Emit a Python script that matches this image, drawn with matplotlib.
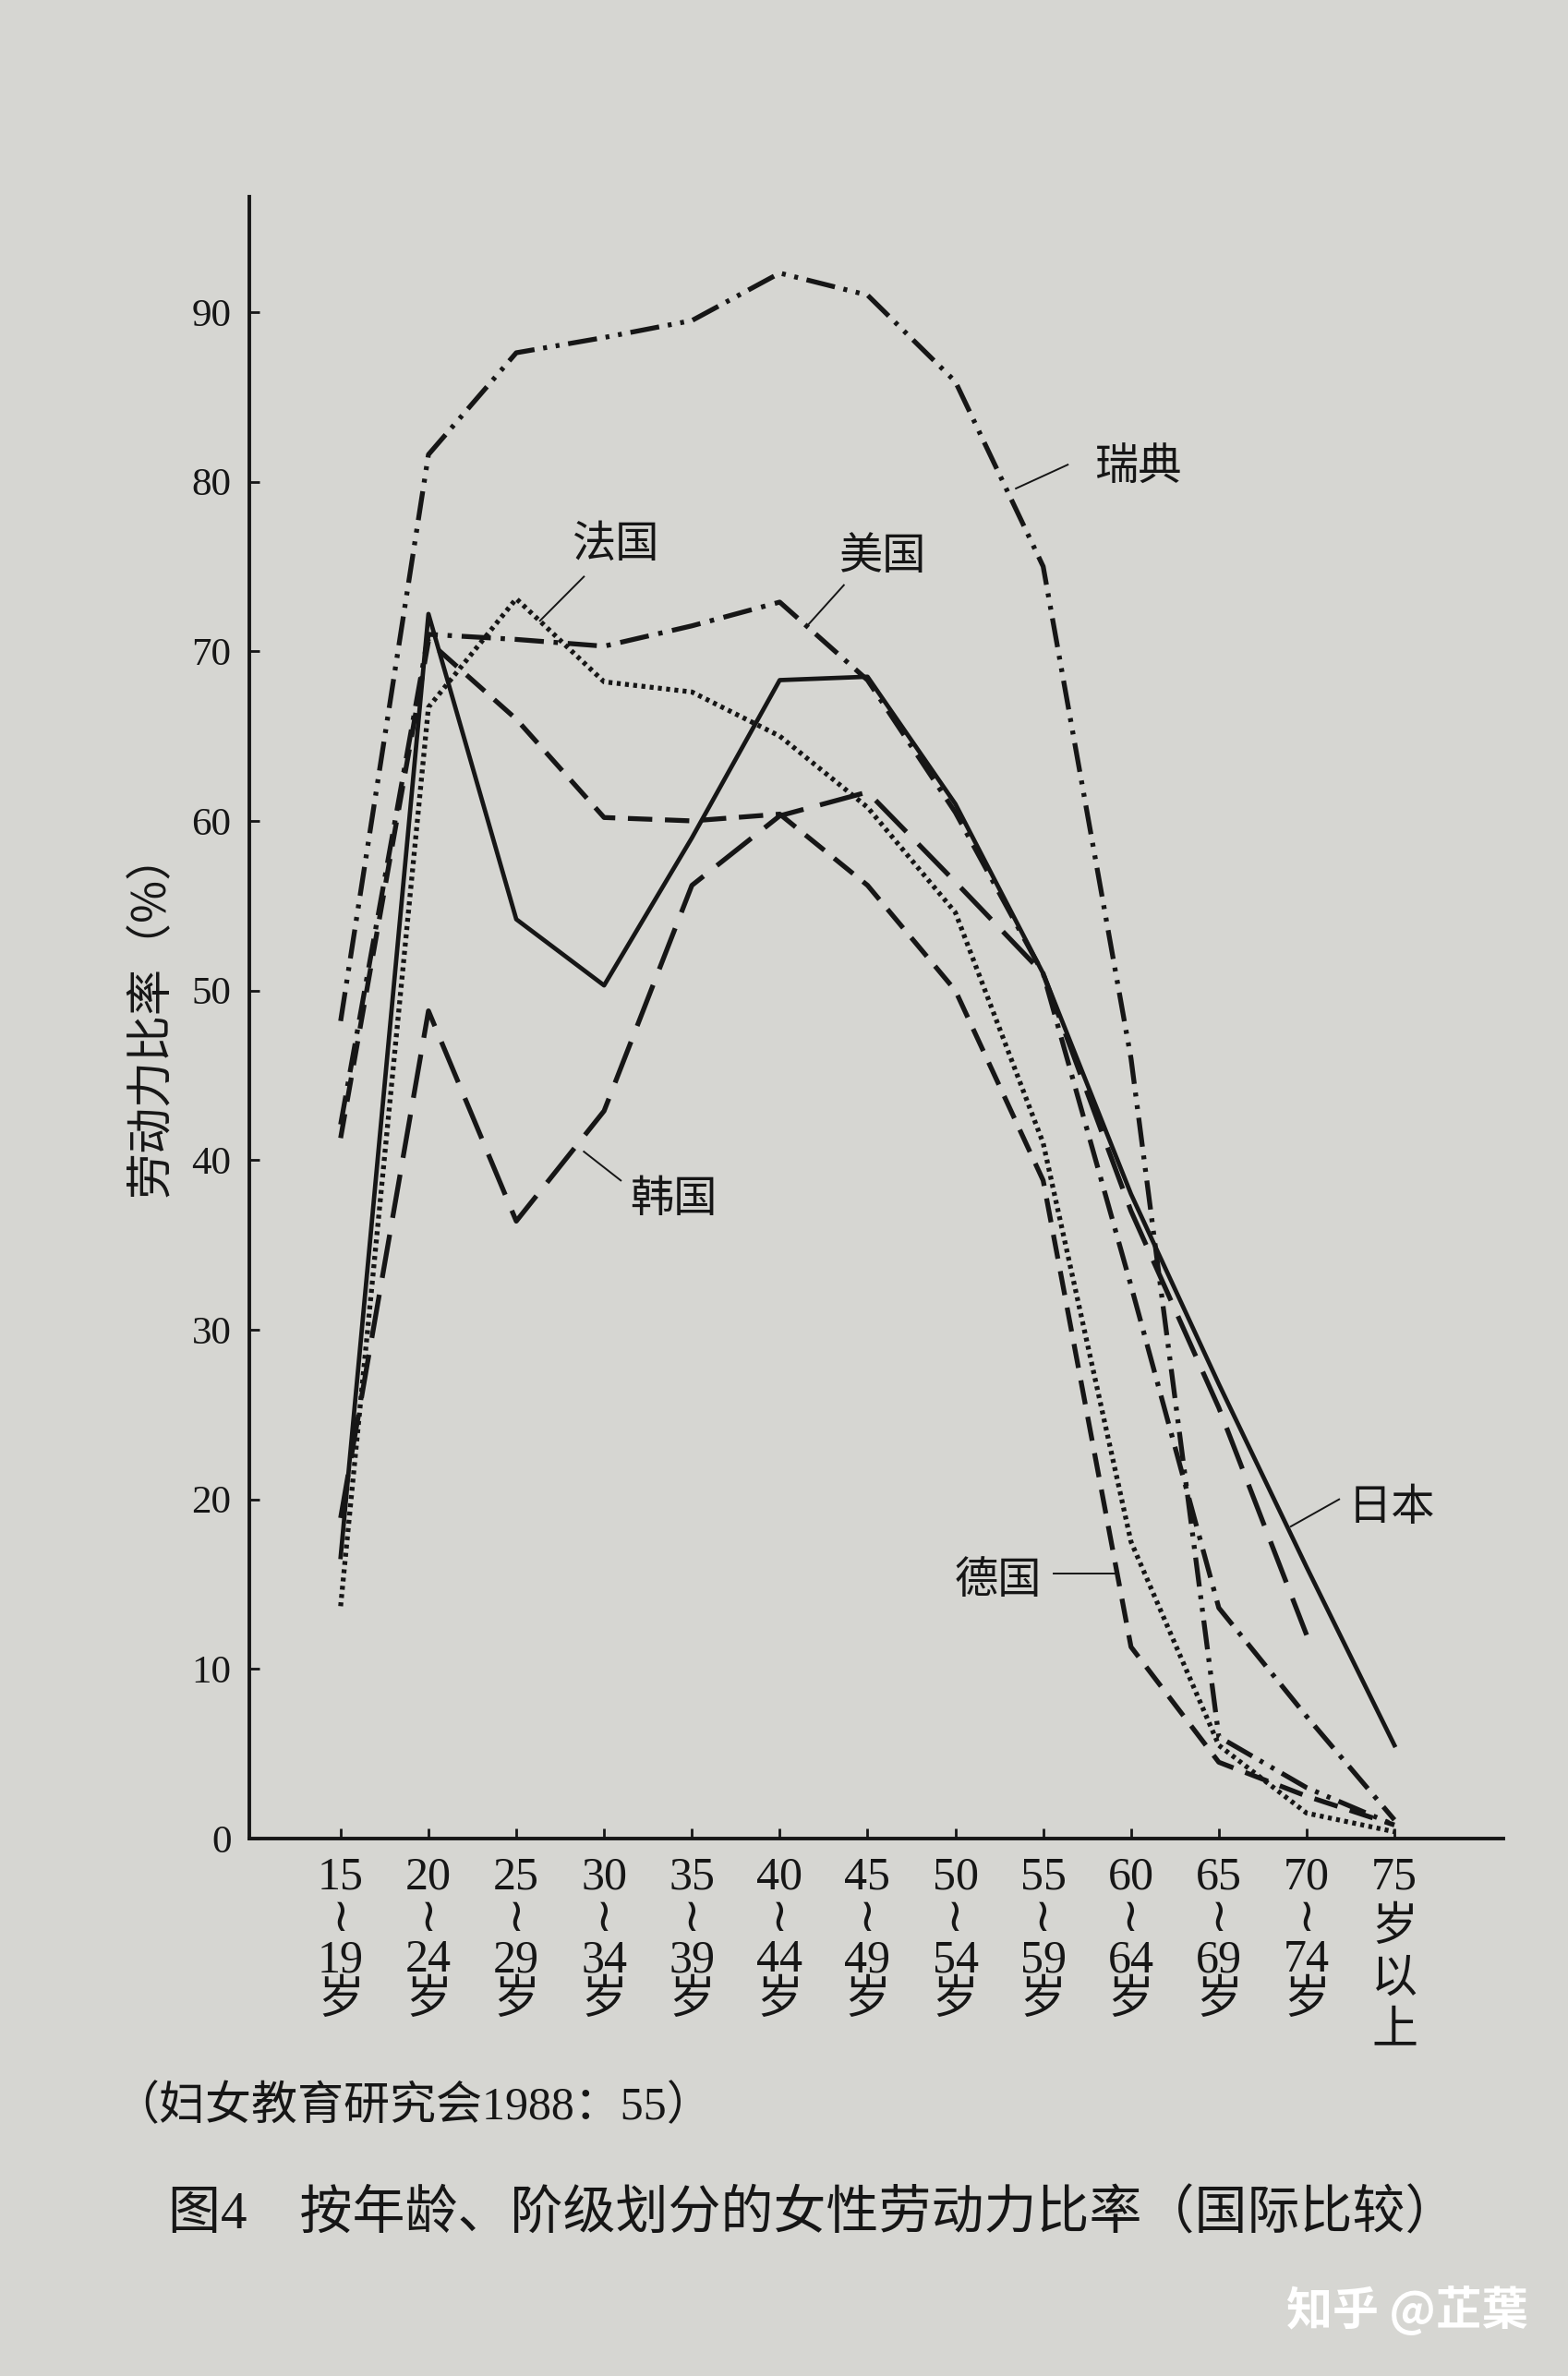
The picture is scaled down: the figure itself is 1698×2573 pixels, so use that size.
import numpy as np
import matplotlib
matplotlib.use("Agg")
import matplotlib.pyplot as plt

# age groups (x categories)
age_labels = ["15\n≀\n19\n岁", "20\n≀\n24\n岁", "25\n≀\n29\n岁", "30\n≀\n34\n岁",
              "35\n≀\n39\n岁", "40\n≀\n44\n岁", "45\n≀\n49\n岁", "50\n≀\n54\n岁",
              "55\n≀\n59\n岁", "60\n≀\n64\n岁", "65\n≀\n69\n岁", "70\n≀\n74\n岁",
              "75\n岁\n以\n上"]

# female labour force participation rate (%)
sweden = [48.2, 81.6, 87.6, 88.5, 89.5, 92.3, 91.0, 85.9, 75.0, 46.0, 6.0, 3.0, 0.8]
usa = [42.1, 71.0, 70.7, 70.3, 71.5, 72.9, 68.3, 60.5, 51.0, 32.6, 13.6, 7.2, 1.1]
france = [13.7, 66.7, 73.1, 68.2, 67.6, 65.0, 60.8, 54.6, 41.0, 17.5, 5.5, 1.5, 0.4]
japan = [16.6, 72.2, 54.2, 50.3, 59.0, 68.3, 68.5, 61.0, 51.0, 38.0, 26.8, 16.0, 5.5]
korea = [18.9, 48.8, 36.4, 42.9, 56.2, 60.3, 61.7, 56.4, 51.0, 37.0, 25.4, 12.0, np.nan]
germany = [41.3, 70.6, 66.0, 60.2, 60.0, 60.4, 56.2, 50.0, 38.8, 11.3, 4.5, 2.5, 0.8]

yticks = [0, 10, 20, 30, 40, 50, 60, 70, 80, 90]

# label text, text position, leader line start/end (data coords)
labels = [
    ("瑞典", (9.08, 80.8), (8.28, 81.0), (7.69, 79.6)),
    ("法国", (3.13, 76.3), (2.77, 74.4), (2.27, 71.8)),
    ("美国", (6.17, 75.6), (5.73, 73.9), (5.33, 71.6)),
    ("韩国", (3.79, 37.7), (3.19, 38.8), (2.77, 40.5)),
    ("日本", (11.97, 19.5), (11.37, 20.0), (10.82, 18.4)),
    ("德国", (7.49, 15.2), (8.12, 15.6), (8.84, 15.6)),
]

SERIF = ["Liberation Serif", "Noto Sans CJK SC", "DejaVu Sans"]
CJK = ["Noto Sans CJK SC", "DejaVu Sans"]
INK = "#161616"
PAPER = "#d6d6d2"

fig = plt.figure(figsize=(16.99, 25.73), dpi=100, facecolor=PAPER)
ax = fig.add_axes([0.1589, 0.2262, 0.7993, 0.691])
ax.set_facecolor("none")

x = np.arange(len(age_labels))
lw = 3.8
ax.plot(x, sweden, color=INK, lw=lw, ls=(0, (6, 1.8, 0.8, 1.8, 0.8, 1.8)))
ax.plot(x, usa, color=INK, lw=lw, ls=(0, (6, 2, 0.9, 2)))
ax.plot(x, france, color=INK, lw=lw, ls=(0, (0.8, 0.9)))
ax.plot(x, japan, color=INK, lw=lw - 0.4, ls="-")
ax.plot(x, korea, color=INK, lw=lw, ls=(0, (9, 3.5)))
ax.plot(x, germany, color=INK, lw=lw, ls=(0, (5, 2.6)))

for name, (tx, ty), (lx0, ly0), (lx1, ly1) in labels:
    ax.plot([lx0, lx1], [ly0, ly1], color=INK, lw=1.4)
    ax.text(tx, ty, name, fontsize=34, family=CJK, color=INK,
            ha="center", va="center")

ax.set_xlim(-1.04, 13.24)
ax.set_ylim(0, 96.8)
for side in ("top", "right"):
    ax.spines[side].set_visible(False)
for side in ("left", "bottom"):
    ax.spines[side].set_linewidth(2.8)
    ax.spines[side].set_color(INK)

ax.set_yticks(yticks)
ax.set_yticklabels([str(v) for v in yticks], fontsize=31, family=SERIF, color=INK)
ax.set_xticks(x)
ax.set_xticklabels(age_labels, fontsize=36, family=SERIF, color=INK,
                   linespacing=0.95, va="top")
ax.get_xticklabels()[-1].set_linespacing(1.25)
ax.tick_params(axis="both", direction="in", length=8, width=2, color=INK)
ax.tick_params(axis="y", pad=14)
ax.tick_params(axis="x", pad=14)

fig.text(0.0965, 1 - 1098 / 2573, "劳动力比率（%）", rotation=90, fontsize=36,
         family=CJK, color=INK, ha="center", va="center")
fig.text(0.072, 1 - 2282 / 2573, "（妇女教育研究会1988：55）", fontsize=36,
         family=SERIF, color=INK, ha="left", va="center")
fig.text(0.107, 1 - 2398 / 2573, "图4\u3000按年龄、阶级划分的女性劳动力比率（国际比较）",
         fontsize=41, family=SERIF, color=INK, ha="left", va="center")
fig.text(0.974, 1 - 2502 / 2573, "知乎 @芷葉", fontsize=36, family=CJK,
         weight="bold", color="white", ha="right", va="center")

fig.savefig("out.png", dpi=100, facecolor=PAPER)
